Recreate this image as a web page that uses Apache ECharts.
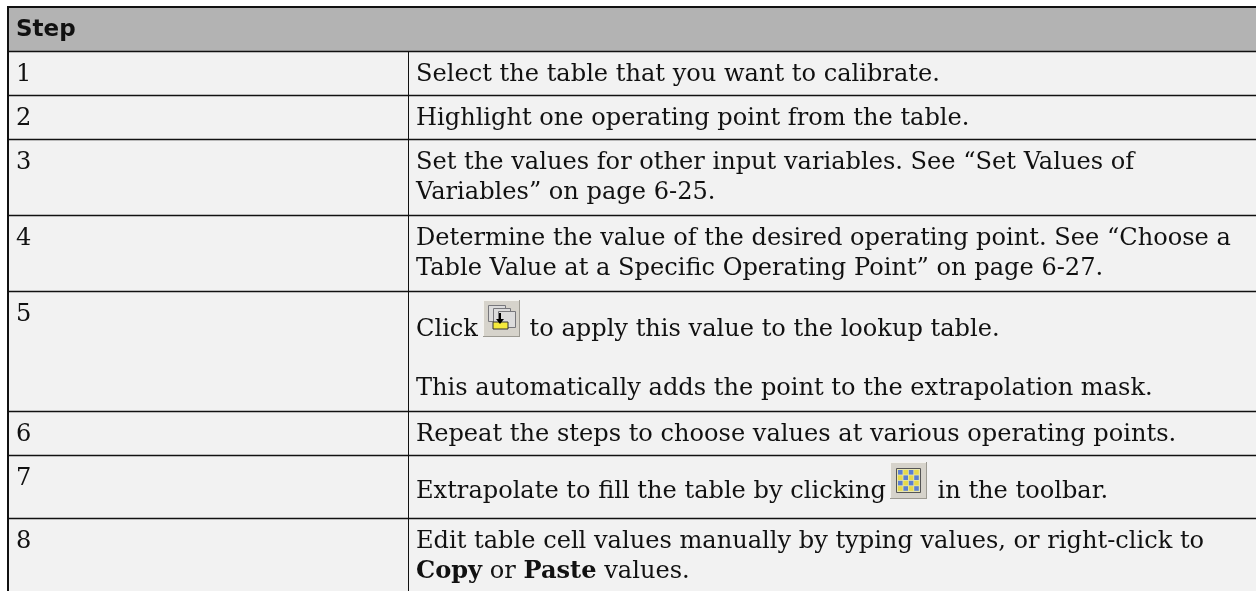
<!DOCTYPE html>
<html>
<head>
<meta charset="utf-8">
<style>
html,body{margin:0;padding:0;background:#fff;}
#chart{width:1256px;height:591px;}
</style>
<script src="https://cdn.jsdelivr.net/npm/echarts@6/dist/echarts.min.js"></script>
</head>
<body>
<div id="chart"></div>
<script>
var headerText = 'Step';
var stepLabels = ['1','2','3','4','5','6','7','8'];
var stepLines = [
	['Select the table that you want to calibrate.'],
	['Highlight one operating point from the table.'],
	['Set the values for other input variables. See “Set Values of','Variables” on page 6-25.'],
	['Determine the value of the desired operating point. See “Choose a','Table Value at a Specific Operating Point” on page 6-27.'],
	['Click {gap| }to apply this value to the lookup table.','This automatically adds the point to the extrapolation mask.'],
	['Repeat the steps to choose values at various operating points.'],
	['Extrapolate to fill the table by clicking {gap| }in the toolbar.'],
	['Edit table cell values manually by typing values, or right-click to','{b|Copy} or {b|Paste} values.']
];

// layout, in px of the page
var rowEdges = [51,95,139,215,291,411,455,518,600];
var lineCentres = [[75],[119],[163,193],[239,269],[330,389],[435],[492],[542,572]];
var labelCentres = [75,119,163,239,315,435,479,542];
var colX = 408;
var leftX = 8, topY = 7, rightX = 1256;
var ink = '#111';
var serif = '"DejaVu Serif"';
var fontPx = 24.1;

function renderRow(params, api){
	var i = params.dataIndex;
	var p0 = api.coord([leftX, rowEdges[i]]);
	var p1 = api.coord([rightX, rowEdges[i+1]]);
	var kids = [{
		type:'rect',
		shape:{x:p0[0],y:p0[1],width:p1[0]-p0[0],height:p1[1]-p0[1]},
		style:{fill:'#f2f2f2'}
	},{
		type:'line',
		shape:{x1:colX+0.5,y1:p0[1],x2:colX+0.5,y2:p1[1]},
		style:{stroke:ink,lineWidth:1}
	},{
		type:'line',
		shape:{x1:p0[0],y1:p0[1]+0.5,x2:p1[0],y2:p0[1]+0.5},
		style:{stroke:ink,lineWidth:1.4}
	},{
		type:'text',
		style:{text:stepLabels[i],x:16,y:api.coord([0,labelCentres[i]])[1],font:fontPx+'px '+serif,fill:ink,verticalAlign:'middle'}
	}];
	stepLines[i].forEach(function(t,k){
		kids.push({
			type:'text',
			style:{
				text:t,x:416,y:api.coord([0,lineCentres[i][k]])[1],
				font:fontPx+'px '+serif,fill:ink,verticalAlign:'middle',
				rich:{
					b:{font:'bold '+fontPx+'px '+serif,fill:ink},
					gap:{width:44,font:fontPx+'px '+serif}
				}
			}
		});
	});
	return {type:'group',children:kids};
}

// toolbar buttons are small drawings, not data
function iconBase(x,y,s){
	return [
		{type:'rect',shape:{x:x,y:y,width:s,height:s},style:{fill:'#d6d3cb'}},
		{type:'rect',shape:{x:x,y:y,width:s,height:1},style:{fill:'#f4f3ef'}},
		{type:'rect',shape:{x:x,y:y,width:1,height:s},style:{fill:'#f4f3ef'}},
		{type:'rect',shape:{x:x,y:y+s-1,width:s,height:1},style:{fill:'#9c9a92'}},
		{type:'rect',shape:{x:x+s-1,y:y,width:1,height:s},style:{fill:'#9c9a92'}}
	];
}
function applyIcon(x,y){
	var k = iconBase(x,y,37);
	[[5,5],[10,8],[15,11]].forEach(function(o){
		k.push({type:'rect',shape:{x:x+o[0]+0.5,y:y+o[1]+0.5,width:17,height:16},style:{fill:'#dcdcdc',stroke:'#77777b',lineWidth:1}});
	});
	k.push({type:'rect',shape:{x:x+10,y:y+22,width:15,height:7},style:{fill:'#f5ea3c',stroke:'#333',lineWidth:1}});
	k.push({type:'rect',shape:{x:x+16,y:y+13,width:2,height:8},style:{fill:'#000'}});
	k.push({type:'polygon',shape:{points:[[x+13,y+19],[x+21,y+19],[x+17,y+24]]},style:{fill:'#000'}});
	return k;
}
function fillIcon(x,y){
	var k = iconBase(x,y,37);
	k.push({type:'rect',shape:{x:x+6.5,y:y+6.5,width:24,height:24},style:{fill:'#e8e6b0',stroke:'#555',lineWidth:1}});
	for(var r=0;r<4;r++){
		for(var c=0;c<4;c++){
			k.push({type:'rect',shape:{x:x+8+c*5.4,y:y+8+r*5.4,width:4.6,height:4.6},
				style:{fill:(r+c)%2 ? '#e6d94a' : '#5c7fd0'}});
		}
	}
	return k;
}
function renderTop(params, api){
	var p0 = api.coord([leftX, topY]);
	var p1 = api.coord([rightX, rowEdges[0]]);
	var kids = [{
		type:'rect',
		shape:{x:p0[0],y:p0[1],width:p1[0]-p0[0],height:p1[1]-p0[1]},
		style:{fill:'#b3b3b3'}
	},{
		type:'text',
		style:{text:headerText,x:16,y:30,font:'bold 23px "DejaVu Sans"',fill:'#111',verticalAlign:'middle'}
	}];
	return {type:'group',children:kids};
}
function renderFrame(params, api){
	var kids = [{
		type:'line',shape:{x1:7,y1:7,x2:1256,y2:7},style:{stroke:'#111',lineWidth:2}
	},{
		type:'line',shape:{x1:8,y1:6,x2:8,y2:591},style:{stroke:'#111',lineWidth:2}
	}].concat(applyIcon(483,300),fillIcon(890,462));
	return {type:'group',children:kids};
}

var chart = echarts.init(document.getElementById('chart'),null,{renderer:'canvas'});
chart.setOption({
	animation:false,
	backgroundColor:'#fff',
	grid:{left:0,right:0,top:0,bottom:0},
	xAxis:{type:'value',min:0,max:1256,show:false},
	yAxis:{type:'value',min:0,max:591,inverse:true,show:false},
	series:[
		{type:'custom',silent:true,clip:false,coordinateSystem:'cartesian2d',data:[[0]],renderItem:renderTop,z:1},
		{type:'custom',silent:true,clip:true,coordinateSystem:'cartesian2d',data:stepLabels.map(function(s,i){return [i];}),renderItem:renderRow,z:2},
		{type:'custom',silent:true,clip:false,coordinateSystem:'cartesian2d',data:[[0]],renderItem:renderFrame,z:3}
	]
});
</script>
</body>
</html>
